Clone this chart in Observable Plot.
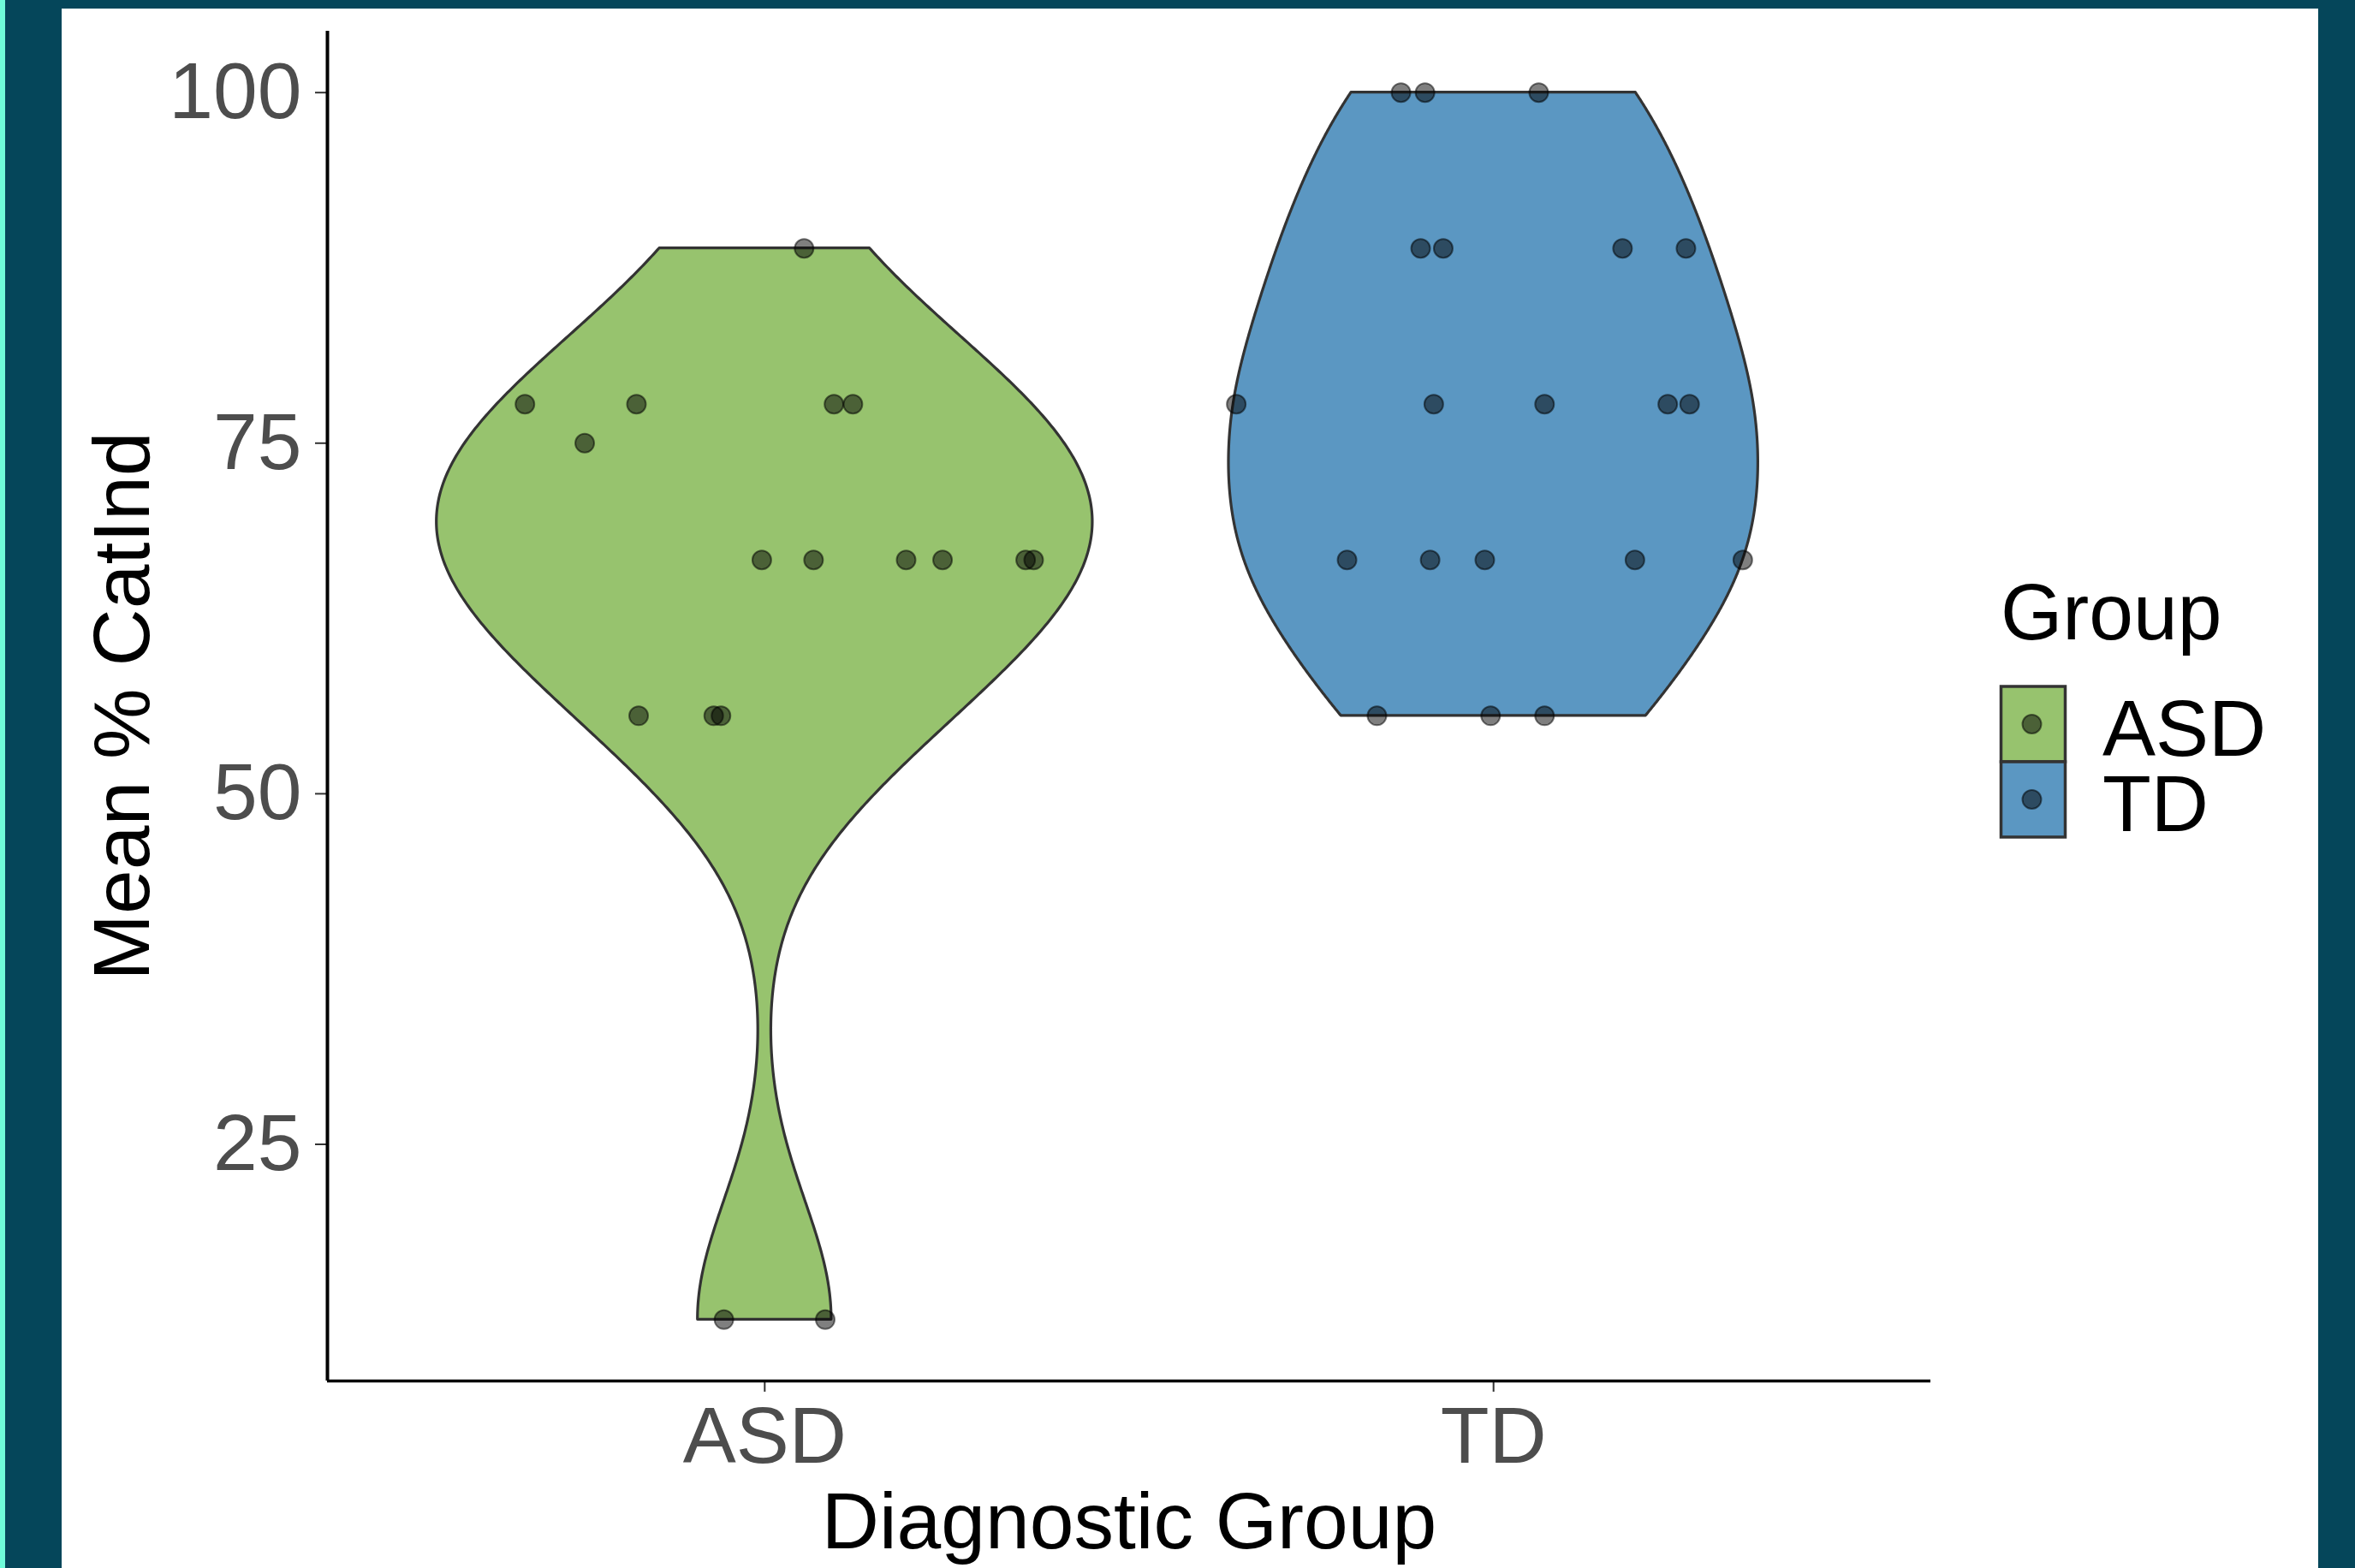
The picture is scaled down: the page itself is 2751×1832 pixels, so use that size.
<!DOCTYPE html>
<html>
<head>
<meta charset="utf-8">
<script src="https://cdn.jsdelivr.net/npm/d3@7"></script>
<script src="https://cdn.jsdelivr.net/npm/@observablehq/plot@0.6"></script>
<style>
  html, body { margin: 0; padding: 0; }
  body { width: 2751px; height: 1832px; background: #05465A; position: relative; overflow: hidden;
         font-family: "Liberation Sans", Arial, sans-serif; }
  #strip { position: absolute; left: 0; top: 0; width: 6px; height: 1832px; background: #6FFCDA; }
  #panel { position: absolute; left: 72px; top: 10px; width: 2636px; height: 1822px; background: #ffffff; }
  #chart { position: absolute; left: 0; top: 0; }
  #legend { position: absolute; left: 0; top: 0; }
</style>
</head>
<body>
<div id="strip"></div>
<div id="panel">
  <div id="chart"></div>
  <svg id="legend" width="2636" height="1822"></svg>
</div>
<script>
// ---- data ----
const groups = ["ASD", "TD"];
const groupFills = ["#97C36E", "#5B97C2"];
const yTicks = [25, 50, 75, 100];
const xTitle = "Diagnostic Group";
const yTitle = "Mean % CatInd";
const legendTitle = "Group";

const asdValues = [88.89, 77.78, 77.78, 77.78, 77.78, 75, 66.67, 66.67, 66.67, 66.67, 66.67, 66.67, 55.56, 55.56, 55.56, 12.5, 12.5];
const asdJitter = [0.054, -0.329, -0.176, 0.095, 0.121, -0.247, -0.004, 0.067, 0.194, 0.244, 0.358, 0.369, -0.173, -0.070, -0.060, -0.056, 0.083];

const tdValues = [100, 100, 100, 88.89, 88.89, 88.89, 88.89, 77.78, 77.78, 77.78, 77.78, 77.78, 66.67, 66.67, 66.67, 66.67, 66.67, 55.56, 55.56, 55.56];
const tdJitter = [-0.127, -0.094, 0.062, -0.100, -0.069, 0.177, 0.264, -0.353, -0.082, 0.070, 0.239, 0.269, -0.201, -0.087, -0.012, 0.194, 0.342, -0.160, -0.004, 0.070];

// ---- violin density (gaussian kernel, bw.nrd0, trimmed, scale = "area") ----
function quantile7(sorted, p) {
  const h = (sorted.length - 1) * p, lo = Math.floor(h), hi = Math.ceil(h);
  return sorted[lo] + (h - lo) * (sorted[hi] - sorted[lo]);
}
function bwNrd0(v) {
  const s = v.slice().sort((a, b) => a - b);
  const sd = d3.deviation(v);
  const iqr = quantile7(s, 0.75) - quantile7(s, 0.25);
  const lo = Math.min(sd, iqr / 1.34);
  return 0.9 * lo * Math.pow(v.length, -0.2);
}
function density(v) {
  const bw = bwNrd0(v);
  const mn = d3.min(v), mx = d3.max(v);
  const n = 512, out = [];
  for (let i = 0; i < n; i++) {
    const y = mn + (mx - mn) * i / (n - 1);
    let s = 0;
    for (const x of v) { const z = (y - x) / bw; s += Math.exp(-0.5 * z * z); }
    out.push({y, d: s / (v.length * bw * Math.sqrt(2 * Math.PI))});
  }
  return out;
}
const seriesValues = [asdValues, tdValues];
const seriesJitter = [asdJitter, tdJitter];
const dens = seriesValues.map(density);
const maxD = d3.max(dens.flat(), p => p.d);
const violinData = [];
dens.forEach((arr, gi) => {
  arr.forEach(p => {
    const hw = 0.45 * p.d / maxD;
    violinData.push({group: groups[gi], y: p.y, x1: gi + 1 - hw, x2: gi + 1 + hw});
  });
});
const pointData = [];
seriesValues.forEach((vals, gi) => {
  vals.forEach((v, i) => pointData.push({group: groups[gi], y: v, x: gi + 1 + seriesJitter[gi][i]}));
});

// ---- plot ----
const W = 2636, H = 1822;
const FONT = "'Liberation Sans', Arial, sans-serif";
const plot = Plot.plot({
  width: W, height: H,
  marginLeft: 310, marginRight: 453, marginTop: 26, marginBottom: 219,
  style: {fontFamily: FONT, background: "transparent", overflow: "visible"},
  x: {type: "linear", domain: [0.4, 2.6]},
  y: {domain: [8.125, 104.375]},
  color: {domain: groups, range: groupFills},
  marks: [
    Plot.areaX(violinData, {y: "y", x1: "x1", x2: "x2", z: "group", fill: "group", stroke: "#333333", strokeWidth: 3.2}),
    Plot.dot(pointData, {x: "x", y: "y", r: 11, fill: "black", fillOpacity: 0.5, stroke: "black", strokeOpacity: 0.5, strokeWidth: 2}),
    Plot.axisY({ticks: yTicks, tickSize: 14, tickPadding: 16, stroke: "#333333", strokeWidth: 2, fill: "#4D4D4D", fontSize: 93, label: null}),
    Plot.axisX({ticks: [1, 2], tickFormat: i => groups[i - 1], tickSize: 13, tickPadding: 16, stroke: "#333333", strokeWidth: 2, fill: "#4D4D4D", fontSize: 93, label: null}),
    Plot.ruleX([0.4], {stroke: "black", strokeWidth: 4}),
    Plot.ruleY([8.125], {stroke: "black", strokeWidth: 3.5}),
    Plot.text([xTitle], {text: d => d, frameAnchor: "bottom", lineAnchor: "middle", textAnchor: "middle", dy: 166, fontSize: 93, fill: "black"}),
    Plot.text([yTitle], {text: d => d, frameAnchor: "left", lineAnchor: "middle", textAnchor: "middle", rotate: -90, dx: -238, fontSize: 93, fill: "black"})
  ]
});
document.getElementById("chart").appendChild(plot);

// ---- legend ----
const lg = d3.select("#legend");
lg.append("text").attr("x", 2265).attr("y", 737).attr("font-size", 93).attr("font-family", FONT)
  .attr("fill", "black").text(legendTitle);
groups.forEach((g, i) => {
  const y0 = 792 + i * 88;
  lg.append("rect").attr("x", 2265.5).attr("y", y0).attr("width", 75).attr("height", 88)
    .attr("fill", groupFills[i]).attr("stroke", "#333333").attr("stroke-width", 3.5);
  lg.append("circle").attr("cx", 2301.5).attr("cy", y0 + 44).attr("r", 11)
    .attr("fill", "black").attr("fill-opacity", 0.5).attr("stroke", "black").attr("stroke-opacity", 0.5).attr("stroke-width", 2);
  lg.append("text").attr("x", 2384).attr("y", y0 + 81).attr("font-size", 93).attr("font-family", FONT)
    .attr("fill", "black").text(g);
});
</script>
</body>
</html>
